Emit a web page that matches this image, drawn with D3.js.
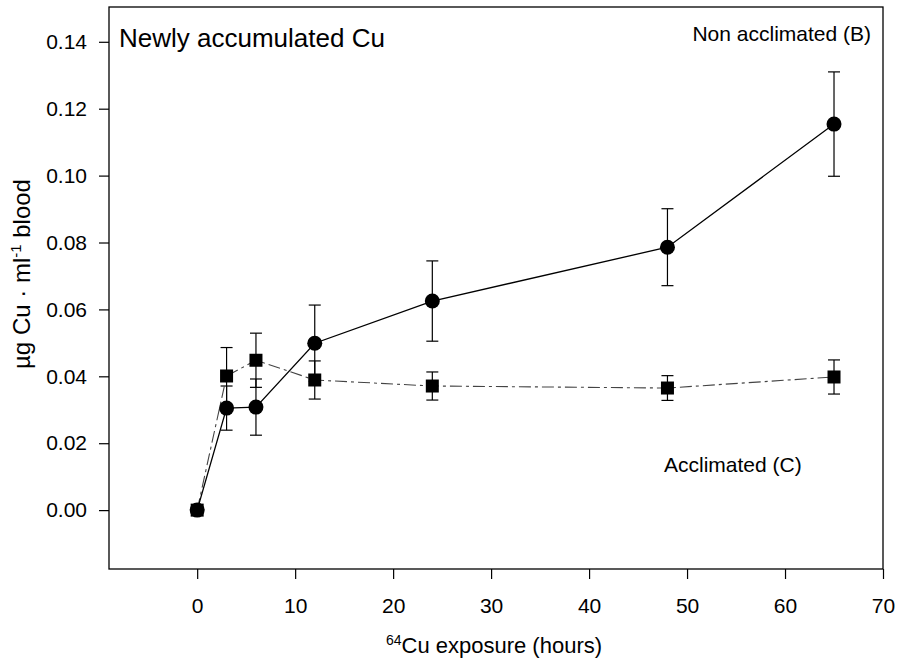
<!DOCTYPE html>
<html>
<head>
<meta charset="utf-8">
<script src="https://cdn.jsdelivr.net/npm/d3@7"></script>
<style>
  body { margin: 0; background: #fff; }
  text { font-family: "Liberation Sans", Arial, sans-serif; fill: #000; }
</style>
</head>
<body>
<div id="chart"></div>
<script>
const hours = [0, 3, 6, 12, 24, 48, 65];
const nonAcclimated = [0, 0.0305, 0.0308, 0.0499, 0.0625, 0.0786, 0.1154];
const nonAcclimatedErr = [0, 0.0066, 0.0084, 0.0114, 0.012, 0.0115, 0.0156];
const acclimated = [0, 0.0401, 0.0448, 0.0389, 0.0371, 0.0365, 0.0398];
const acclimatedErr = [0, 0.0085, 0.0081, 0.0057, 0.0042, 0.0037, 0.0051];
const xTicks = [0, 10, 20, 30, 40, 50, 60, 70];
const yTicks = [0, 0.02, 0.04, 0.06, 0.08, 0.1, 0.12, 0.14];

const container_dimensions = (width = 898, height = 658) => {
  return { width, height };
};
const margins = (top = 7, bottom = 89, left = 109, right = 15) => {
  return { top, bottom, left, right };
};
const plot_dimensions = (c, m) => {
  return {
    width: c.width - m.left - m.right,
    height: c.height - m.bottom - m.top,
  };
};

const c_dimension = container_dimensions();
const m = margins();
const dimensions = plot_dimensions(c_dimension, m);

const x = d3.scaleLinear().domain([-9, 70]).range([0, dimensions.width]);
const y = d3.scaleLinear().domain([-0.0176, 0.1504]).range([dimensions.height, 0]);

const series = [
  { name: "acclimated", values: acclimated, err: acclimatedErr },
  { name: "non", values: nonAcclimated, err: nonAcclimatedErr },
];
const rows = (s) => hours.map((h, i) => ({ h: h, v: s.values[i], e: s.err[i] }));

const svg = d3
  .select("#chart")
  .append("svg")
  .attr("width", c_dimension.width)
  .attr("height", c_dimension.height)
  .append("g")
  .attr("transform", "translate(" + m.left + "," + m.top + ")");

// frame
svg
  .append("rect")
  .attr("width", dimensions.width)
  .attr("height", dimensions.height)
  .attr("fill", "none")
  .attr("stroke", "#000")
  .attr("stroke-width", 1.3);

// creates x axis
const gx = svg
  .append("g")
  .attr("transform", "translate(0," + dimensions.height + ")")
  .call(d3.axisBottom(x).tickValues(xTicks).tickSize(10).tickSizeOuter(0).tickPadding(19));

// creates y axis
const gy = svg
  .append("g")
  .call(
    d3.axisLeft(y).tickValues(yTicks).tickSize(10).tickSizeOuter(0).tickPadding(12)
      .tickFormat(d3.format(".2f"))
  );

[gx, gy].forEach((g) => {
  g.select(".domain").remove();
  g.selectAll("line").attr("stroke", "#000").attr("stroke-width", 1.2);
  g.selectAll("text").style("font-size", "21px").attr("fill", "#000");
});

// error bars
series.forEach((s) => {
  const eb = svg.append("g").attr("stroke", "#000").attr("stroke-width", 1.2);
  rows(s).filter((d) => d.e > 0).forEach((d) => {
    eb.append("line")
      .attr("x1", x(d.h)).attr("x2", x(d.h))
      .attr("y1", y(d.v - d.e)).attr("y2", y(d.v + d.e));
    [d.v - d.e, d.v + d.e].forEach((val) => {
      eb.append("line")
        .attr("x1", x(d.h) - 6).attr("x2", x(d.h) + 6)
        .attr("y1", y(val)).attr("y2", y(val));
    });
  });
});

const line = d3.line().x((d) => x(d.h)).y((d) => y(d.v));

// acclimated line (dash-dot)
svg
  .append("path")
  .datum(rows(series[0]))
  .attr("fill", "none")
  .attr("stroke", "#444")
  .attr("stroke-width", 1.1)
  .attr("stroke-dasharray", "12,4,3,4")
  .attr("d", line);

// non acclimated line
svg
  .append("path")
  .datum(rows(series[1]))
  .attr("fill", "none")
  .attr("stroke", "#000")
  .attr("stroke-width", 1.3)
  .attr("d", line);

// circles
svg
  .selectAll("circle.non")
  .data(rows(series[1]))
  .enter()
  .append("circle")
  .attr("class", "non")
  .attr("cx", (d) => x(d.h))
  .attr("cy", (d) => y(d.v))
  .attr("r", 7.5)
  .attr("fill", "#000");

// squares
svg
  .selectAll("rect.accl")
  .data(rows(series[0]))
  .enter()
  .append("rect")
  .attr("class", "accl")
  .attr("x", (d) => x(d.h) - 6.5)
  .attr("y", (d) => y(d.v) - 6.5)
  .attr("width", 13)
  .attr("height", 13)
  .attr("fill", "#000");

// labels
svg.append("text")
  .attr("x", 10).attr("y", 40)
  .style("font-size", "26px")
  .text("Newly accumulated Cu");

svg.append("text")
  .attr("x", dimensions.width - 12).attr("y", 34)
  .attr("text-anchor", "end")
  .style("font-size", "21px")
  .text("Non acclimated (B)");

svg.append("text")
  .attr("x", 555).attr("y", 465)
  .style("font-size", "21px")
  .text("Acclimated (C)");

// x title
const xt = svg.append("text")
  .attr("x", 385).attr("y", 646)
  .attr("text-anchor", "middle")
  .style("font-size", "22px");
xt.append("tspan").style("font-size", "14px").attr("dy", -8).text("64");
xt.append("tspan").attr("dy", 8).text("Cu exposure (hours)");

// y title
const yt = svg.append("text")
  .attr("transform", "translate(" + (30 - m.left) + "," + (274 - m.top) + ") rotate(-90)")
  .attr("text-anchor", "middle")
  .style("font-size", "24px");
yt.append("tspan").text("µg Cu · ml");
yt.append("tspan").style("font-size", "15px").attr("dy", -9).text("-1");
yt.append("tspan").attr("dy", 9).text(" blood");
</script>
</body>
</html>
